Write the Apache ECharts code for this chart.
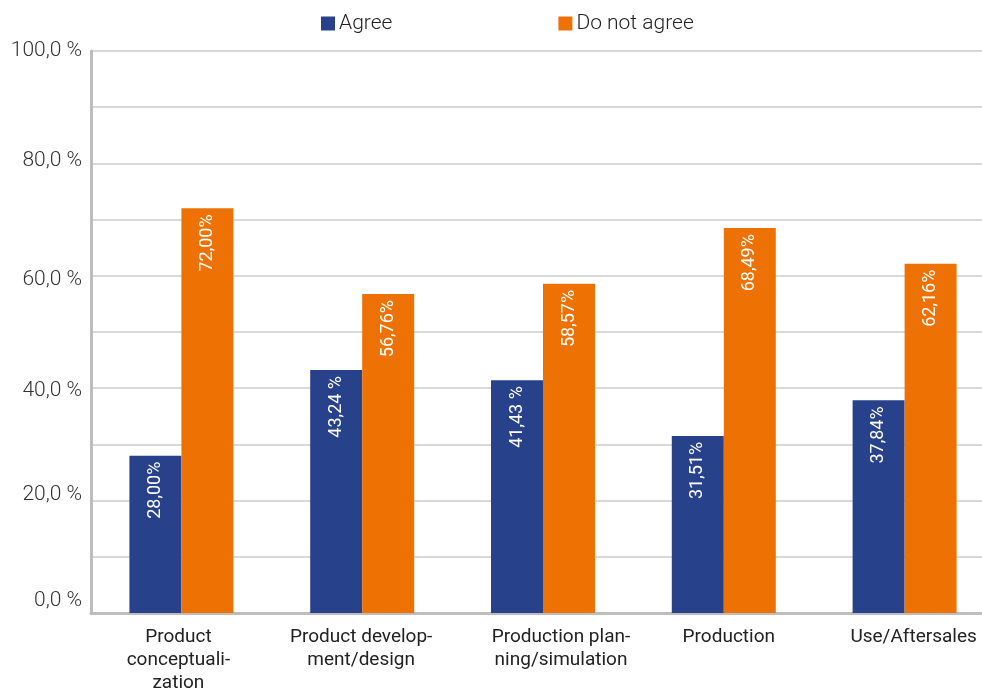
<!DOCTYPE html>
<html><head><meta charset="utf-8">
<script src="https://cdn.jsdelivr.net/npm/echarts@6/dist/echarts.min.js"></script>
<style>html,body{margin:0;padding:0;background:#fff}#c{width:982px;height:689px}</style>
</head><body><div id="c"></div>
<script>
const categories = ["Product\nconceptuali-\nzation", "Product develop-\nment/design", "Production plan-\nning/simulation", "Production", "Use/Aftersales"];
const agree = [28.00, 43.24, 41.43, 31.51, 37.84];
const disagree = [72.00, 56.76, 58.57, 68.49, 62.16];
const agreeLabels = ["28,00%", "43,24 %", "41,43 %", "31,51%", "37,84%"];
const disagreeLabels = ["72,00%", "56,76%", "58,57%", "68,49%", "62,16%"];
const yTicks = ["0,0 %", "20,0 %", "40,0 %", "60,0 %", "80,0 %", "100,0 %"];

// horizontal nudges (px) of category label text, as in the reference layout
const labelShift = [-3, -1, 18, 5, 9];
// vertical nudges (px, + = down) of y tick label text, as in the reference layout
const yLabelShift = [-12, -6, 3, 4, -3, 0];

const chart = echarts.init(document.getElementById('c'));
const font = 'Roboto';
const labelCfg = (arr) => ({
  show: true, position: 'insideTop', rotate: 90, align: 'right', verticalAlign: 'middle',
  distance: 6, color: '#fff', fontFamily: font, fontSize: 18,
  formatter: p => arr[p.dataIndex]
});
const catData = categories.map((c, i) => {
  const s = labelShift[i];
  return { value: c, textStyle: { padding: s >= 0 ? [0, 0, 0, 2 * s] : [0, -2 * s, 0, 0] } };
});
const yRich = {};
yLabelShift.forEach((s, i) => {
  yRich['r' + i] = {
    color: '#333', fontFamily: font, fontSize: 21, fontWeight: 300,
    padding: s >= 0 ? [2 * s, 0, 0, 0] : [0, 0, -2 * s, 0]
  };
});
chart.setOption({
  animation: false,
  textStyle: { fontFamily: font },
  legend: {
    top: 8, left: 316, itemWidth: 14, itemHeight: 14, itemGap: 166,
    icon: 'rect',
    textStyle: { fontFamily: font, fontSize: 21, color: '#222', fontWeight: 300, padding: [0,0,0,-1] },
    data: ['Agree', 'Do not agree']
  },
  grid: { left: 91, width: 904, top: 51, height: 562, containLabel: false, outerBoundsMode: 'none' },
  xAxis: {
    type: 'category', data: catData,
    axisLine: { lineStyle: { color: '#bdbdbd', width: 3 } },
    axisTick: { show: false },
    axisLabel: { color: '#222', fontFamily: font, fontSize: 19, lineHeight: 23, margin: 13, interval: 0 }
  },
  yAxis: {
    type: 'value', min: 0, max: 100, interval: 10,
    axisLine: { show: true, lineStyle: { color: '#bdbdbd', width: 3 } },
    axisTick: { show: false },
    splitLine: { lineStyle: { color: '#d9d9d9', width: 2 } },
    axisLabel: {
      color: '#333', fontFamily: font, fontSize: 21, fontWeight: 300, margin: 9,
      formatter: v => (v % 20 === 0 ? '{r' + (v / 20) + '|' + yTicks[v / 20] + '}' : ''),
      rich: yRich
    }
  },
  series: [
    { name: 'Agree', type: 'bar', data: agree, barWidth: 52, barGap: '0%',
      itemStyle: { color: '#27418A' }, label: labelCfg(agreeLabels) },
    { name: 'Do not agree', type: 'bar', data: disagree, barWidth: 52, barGap: '0%',
      itemStyle: { color: '#EE7203' }, label: labelCfg(disagreeLabels) }
  ]
});
</script></body></html>
